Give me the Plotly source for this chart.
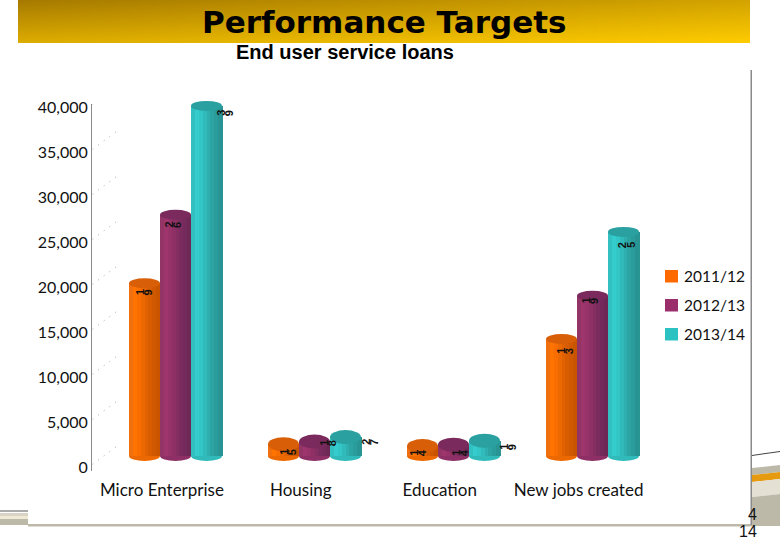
import plotly.graph_objects as go

categories = ["Micro Enterprise", "Housing", "Education", "New jobs created"]
series_names = ["2011/12", "2012/13", "2013/14"]
values_2011 = [19200, 1300, 1100, 13000]
values_2012 = [26800, 1600, 1250, 17800]
values_2013 = [38900, 2100, 1700, 24900]
labels_2011 = ["19", "15", "14", "13"]
labels_2012 = ["26", "18", "14", "19"]
labels_2013 = ["39", "27", "19", "25"]
y_ticks = [0, 5000, 10000, 15000, 20000, 25000, 30000, 35000, 40000]

W, H = 780, 540
PPU = 360 / 40000          # pixels per value unit
CAT = 139                  # pixels per category


def ydom(top, bottom):
    return [(H - bottom) / H, (H - top) / H]


def xdom(left, right):
    return [left / W, right / W]


series = [
    (values_2011, labels_2011, ["#F07010", "#FF7400", "#F86E00", "#EC6800", "#E06200", "#D85C00", "#D05800", "#C85400"]),
    (values_2012, labels_2012, ["#923466", "#9E356C", "#98336A", "#8E3066", "#842E62", "#7A2C5E", "#742A5A", "#6E2856"]),
    (values_2013, labels_2013, ["#32C0C0", "#34CCCC", "#33C6C6", "#30BABA", "#2EAEAE", "#2CA4A4", "#2A9C9C", "#289494"]),
]
top_colors = ["#D85E08", "#7A2A5C", "#2AA0A0"]
legend_colors = ["#FF6A00", "#9B2F6B", "#2CC2C2"]

bar_w = 31 / CAT
fig = go.Figure()
x_idx = list(range(len(categories)))
shapes = []
annotations = []

# Title band (smooth two-way gradient)
fig.add_trace(go.Heatmap(
    z=[[0.62, 1.0], [0.0, 0.5]], x=[0, 1], y=[0, 1], zsmooth="best", showscale=False,
    colorscale=[[0, "#A67A00"], [1, "#FFCC00"]], xaxis="x3", yaxis="y3", hoverinfo="skip",
))

# Reference trace that keeps the visible axes alive
fig.add_trace(go.Scatter(x=x_idx, y=values_2011, mode="markers", marker=dict(opacity=0),
                         showlegend=False, hoverinfo="skip", xaxis="x", yaxis="y"))

label_shift = [
    [(-0.5, 9), (4.5, 7.7), (-4.5, 6.9), (3.5, 12)],
    [(-2.5, 10), (13.5, 1.4), (6.5, 8.25), (-2.5, 5)],
    [(18.5, 7), (24.5, 4.9), (23.5, 6.3), (3, 13)],
]

for s, (vals, labs, strips) in enumerate(series):
    n = len(strips)
    w = bar_w / n
    start = (s - 1.5) * bar_w
    for k, col in enumerate(strips):
        fig.add_trace(go.Bar(
            x=x_idx, y=vals, width=w * 1.15, offset=start + k * w,
            marker=dict(color=col, line=dict(width=0)),
            name=series_names[s], showlegend=False,
            xaxis="x2", yaxis="y2", hoverinfo="skip",
        ))
    ry = 5 / PPU
    for i, v in enumerate(vals):
        x0 = i + start
        x1 = x0 + bar_w
        rr = ry if v > 5000 else 7 / PPU
        shapes.append(dict(type="circle", xref="x2", yref="y2", x0=x0, x1=x1, y0=-ry, y1=ry,
                           fillcolor=strips[3], line_width=0, layer="below"))
        shapes.append(dict(type="circle", xref="x2", yref="y2", x0=x0, x1=x1, y0=v - rr, y1=v + rr,
                           fillcolor=top_colors[s], line_width=0, layer="above"))
        dx, dy = label_shift[s][i]
        for d, ch in enumerate(labs[i]):
            annotations.append(dict(
                x=i + start + bar_w / 2 + (dx + (d - 0.5) * 8.5) / CAT, y=v - dy / PPU, xref="x2", yref="y2",
                text=f"<b>{ch}</b>", showarrow=False, textangle=-90,
                font=dict(family="Liberation Sans", size=11, color="#111"),
            ))

# Faint dotted depth marks
for t in y_ticks:
    shapes.append(dict(type="line", xref="x", yref="y", x0=-0.5, x1=-0.5 + 27 / CAT,
                       y0=t + 300, y1=t + 300 + 20 / PPU,
                       line=dict(color="#AAAAAA", width=1, dash="1px,6px"), layer="below"))
shapes.append(dict(type="line", xref="x", yref="y", x0=3.5, x1=3.5 + 22 / CAT, y0=-300, y1=-300 + 20 / PPU,
                   line=dict(color="#AAAAAA", width=1, dash="2px,3px"), layer="below"))


def paper_rect(x0, y0, x1, y1, color, layer="below"):
    return dict(type="rect", xref="paper", yref="paper", x0=x0 / W, x1=x1 / W, y0=1 - y0 / H, y1=1 - y1 / H,
                fillcolor=color, line_width=0, layer=layer)


def paper_poly(pts, color):
    path = "M" + " L".join(f"{x / W},{1 - y / H}" for x, y in pts) + " Z"
    return dict(type="path", xref="paper", yref="paper", path=path, fillcolor=color, line_width=0, layer="below")


# Slide furniture
shapes += [
    paper_rect(28, 524, 752, 526.5, "#BDB9A9"),
    paper_rect(750.5, 70, 752, 525, "#8A8A8A"),
    paper_rect(0, 510.5, 28, 511.5, "#555555"),
    paper_rect(0, 513, 28, 516, "#D8D3C4"),
    paper_rect(0, 516, 28, 519, "#EFE9D6"),
    paper_rect(0, 519, 28, 525, "#BDB9A9"),
    paper_poly([(752, 455), (780, 451), (780, 452), (752, 456)], "#444444"),
    paper_poly([(752, 468), (780, 465), (780, 472), (752, 475)], "#BDB9A9"),
    paper_poly([(752, 475), (780, 472), (780, 479), (752, 482)], "#E59A10"),
    paper_poly([(752, 482), (780, 479), (780, 494), (752, 497)], "#E4E0D4"),
    paper_poly([(752, 497), (780, 494), (780, 526), (752, 526)], "#BDB9A9"),
]

# Legend keys and entries, one row per series
legend_rows = [276, 305, 334]
for s, name in enumerate(series_names):
    yc = legend_rows[s]
    shapes.append(paper_rect(665, yc - 6, 678, yc + 6.5, legend_colors[s]))
    annotations.append(dict(x=682 / W, y=1 - yc / H, xref="paper", yref="paper", text=name, showarrow=False,
                            xanchor="left", yanchor="middle", font=dict(family="Lato", size=15.5, color="#111")))

annotations += [
    dict(x=384 / W, y=1 - 22 / H, xref="paper", yref="paper", text="<b>Performance Targets</b>", showarrow=False,
         font=dict(family="DejaVu Sans", size=31, color="#000000"), xanchor="center", yanchor="middle"),
    dict(x=344.5 / W, y=1 - 52 / H, xref="paper", yref="paper", text="<b>End user service loans</b>", showarrow=False,
         font=dict(family="Liberation Sans", size=20, color="#000000"), xanchor="center", yanchor="middle"),
    dict(x=759 / W, y=1 - 514 / H, xref="paper", yref="paper", text="4", showarrow=False, xanchor="right",
         yanchor="middle", font=dict(family="Liberation Sans", size=16, color="#111")),
    dict(x=759 / W, y=1 - 531 / H, xref="paper", yref="paper", text="14", showarrow=False, xanchor="right",
         yanchor="middle", font=dict(family="Liberation Sans", size=16, color="#111")),
]

label_font = dict(family="Lato", size=17, color="#111111")
tick_font = dict(family="Lato", size=16, color="#111111")
fig.update_layout(
    width=W, height=H, margin=dict(l=0, r=0, t=0, b=0, autoexpand=False), paper_bgcolor="white",
    plot_bgcolor="rgba(0,0,0,0)",
    barmode="overlay", bargap=0, shapes=shapes, annotations=annotations, autosize=False,
    font=dict(family="Lato"), showlegend=False,
    xaxis=dict(domain=xdom(92, 648), range=[-0.5036, 3.5], tickvals=x_idx, ticktext=categories, showgrid=False,
               zeroline=False, showline=False, ticks="", ticklabelstandoff=7, tickfont=label_font, anchor="y"),
    yaxis=dict(domain=ydom(104, 471), range=[(467 - 471) / PPU, (467 - 104) / PPU], tickvals=y_ticks,
               tickformat=",", showgrid=False, zeroline=False, showline=True, linecolor="#8A8A8A", linewidth=1,
               ticks="", tickfont=tick_font, anchor="x"),
    xaxis2=dict(domain=xdom(92, 660), range=[(92 - 175.5) / CAT, (660 - 175.5) / CAT], visible=False, anchor="y2"),
    yaxis2=dict(domain=ydom(70, 471), range=[(456 - 471) / PPU, (456 - 70) / PPU], visible=False, anchor="x2"),
    xaxis3=dict(domain=xdom(18, 750), range=[0, 1], visible=False, anchor="y3"),
    yaxis3=dict(domain=ydom(0, 43), range=[0, 1], visible=False, anchor="x3"),
)

fig.write_html("out.html", config=dict(displayModeBar=False),
               post_script="document.body.style.margin='0';document.documentElement.style.margin='0';document.body.style.overflow='hidden';")
